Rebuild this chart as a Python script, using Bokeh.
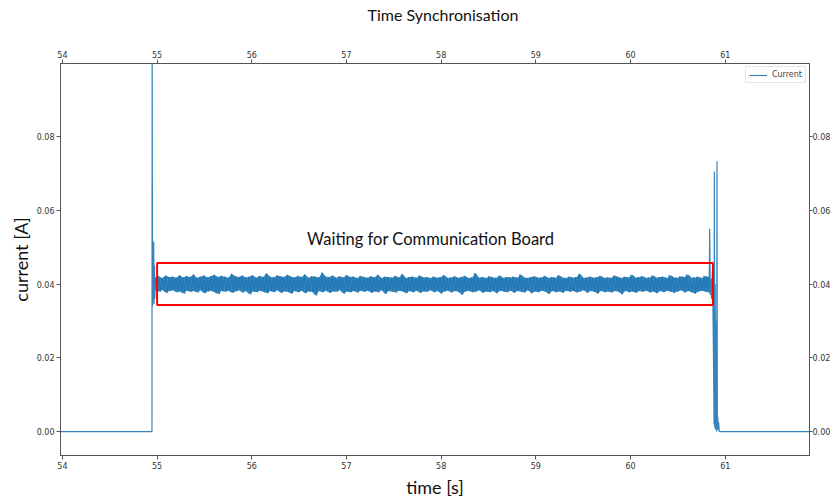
import numpy as np
from bokeh.plotting import figure
from bokeh.models import LinearAxis, FixedTicker, NumeralTickFormatter, Label, BoxAnnotation, Title
from bokeh.embed import file_html
from bokeh.resources import INLINE

# ---------------- data (current in mA, time in s) ----------------
title_text = "Time Synchronisation"
x_label = "time [s]"
y_label = "current [A]"
series_name = "Current"
annotation_text = "Waiting for Communication Board"

x_ticks = [54, 55, 56, 57, 58, 59, 60, 61]
y_ticks = [0.00, 0.02, 0.04, 0.06, 0.08]
x_limits = (53.98, 61.89)
y_limits = (-0.0065, 0.0998)

# idle before start + start-up spikes
start_t = [53.98, 54.946, 54.948, 54.952, 54.956, 54.960, 54.964, 54.968, 54.972, 54.976]
start_mA = [0.0, 0.0, 110.0, 34.0, 50.0, 35.0, 51.5, 34.5, 45.0, 36.0]

# waiting phase (alternating peak / trough samples)
band_t_range = (54.980, 60.830)
band_upper_mA = [
    41.8, 42.1, 41.6, 42.3, 41.9, 42.0, 41.7, 42.4, 41.8, 42.2, 41.9, 42.6, 41.7, 42.0, 42.3, 41.8, 42.1, 42.5, 41.9, 42.2,
    42.0, 41.7, 42.8, 42.1, 41.9, 42.3, 41.8, 42.0, 42.4, 41.7, 42.2, 41.9, 42.9, 42.0, 41.8, 42.3, 42.1, 41.9, 42.5, 42.0,
    41.8, 42.2, 41.9, 42.6, 41.7, 42.1, 42.0, 41.8, 43.1, 42.0, 41.9, 42.3, 41.7, 42.1, 41.8, 42.4, 41.9, 42.0, 41.6, 42.2,
    41.9, 41.7, 42.1, 41.8, 42.5, 41.6, 42.0, 41.9, 41.7, 42.2, 41.8, 42.7, 41.6, 41.9, 42.0, 41.7, 42.3, 41.8, 41.9, 41.6,
    42.0, 41.7, 41.9, 42.4, 41.6, 41.8, 42.1, 41.7, 41.9, 42.2, 41.6, 41.8, 43.0, 41.7, 41.9, 41.6, 42.1, 41.8, 41.7, 42.3,
    41.6, 41.9, 41.8, 42.0, 41.7, 42.6, 41.8, 41.6, 41.9, 42.1, 41.7, 41.8, 42.2, 41.6, 41.9, 41.7, 42.4, 41.8, 41.6, 42.0,
    41.7, 41.9, 42.8, 41.6, 41.8, 42.0, 41.7, 41.9, 42.2, 41.6, 41.8, 41.7, 42.3, 41.9, 41.6, 42.0, 41.8, 42.5, 41.7, 41.9,
    42.1, 41.6, 41.8, 42.3, 41.7, 41.9, 42.0, 41.6, 42.4, 41.8, 41.7, 42.1, 41.9, 42.6, 41.7, 41.8, 42.0, 41.6, 42.2, 41.9,
]
band_lower_mA = [
    38.2, 37.9, 38.4, 37.6, 38.1, 38.3, 37.8, 38.0, 37.4, 38.2, 37.9, 38.1, 37.7, 38.3, 37.5, 38.0, 38.2, 37.8, 37.3, 38.1,
    37.9, 38.2, 37.6, 38.0, 38.3, 37.7, 38.1, 37.2, 38.0, 37.8, 38.2, 37.9, 37.5, 38.1, 37.8, 38.3, 37.6, 38.0, 37.9, 37.4,
    38.1, 37.8, 38.2, 37.5, 38.0, 37.9, 36.9, 38.1, 37.8, 38.2, 37.6, 38.0, 37.9, 38.3, 37.4, 38.0, 37.8, 38.1, 37.7, 38.2,
    37.9, 38.2, 37.6, 38.0, 37.8, 38.3, 37.3, 38.1, 37.9, 37.7, 38.2, 38.0, 37.5, 38.1, 37.8, 38.2, 37.6, 38.0, 37.9, 38.3,
    37.8, 38.1, 37.4, 38.0, 38.2, 37.7, 38.1, 37.9, 37.1, 38.0, 38.2, 37.8, 37.9, 38.3, 37.6, 38.0, 37.8, 38.1, 37.5, 38.2,
    38.0, 37.8, 38.2, 37.6, 38.1, 37.9, 37.7, 38.3, 37.5, 38.0, 37.8, 38.2, 37.9, 37.3, 38.1, 37.8, 38.0, 37.6, 38.2, 37.9,
    38.1, 37.7, 38.0, 38.3, 37.6, 38.1, 37.9, 37.4, 38.2, 37.8, 38.0, 37.7, 38.1, 37.9, 37.2, 38.2, 37.8, 38.0, 37.6, 38.1,
    37.9, 38.2, 37.7, 38.0, 37.5, 38.1, 37.8, 38.2, 37.9, 37.6, 38.0, 38.3, 37.7, 38.1, 37.8, 37.4, 38.0, 38.2, 37.9, 37.7,
]

# end of waiting phase, shut-down spikes + idle
end_t = [60.836, 60.842, 60.848, 60.856, 60.866, 60.876, 60.882, 60.885, 60.889, 60.894, 60.899,
         60.905, 60.910, 60.913, 60.917, 60.921, 60.926, 60.931, 60.937, 61.89]
end_mA = [55.0, 37.0, 41.5, 36.0, 44.0, 20.0, 2.0, 70.5, 1.0, 40.0, 0.5,
          30.0, 0.0, 73.3, 0.5, 4.0, 0.5, 2.5, 0.0, 0.0]

# highlighted region and text anchor
box_left, box_right = 55.0, 60.87
box_bottom, box_top = 0.0343, 0.0457
annotation_x, annotation_y = 57.89, 0.0523

# ---------------- assemble series ----------------
band_mA = []
for u, l in zip(band_upper_mA, band_lower_mA):
    band_mA.extend([u, l])
band_t = np.linspace(band_t_range[0], band_t_range[1], len(band_mA))
env_t = np.linspace(band_t_range[0], band_t_range[1], len(band_upper_mA))

t_all = np.concatenate([start_t, band_t, end_t])
i_all = np.concatenate([start_mA, band_mA, end_mA]) / 1000.0

# ---------------- figure ----------------
p = figure(width=833, height=500, x_range=x_limits, y_range=y_limits,
           output_backend="svg", toolbar_location=None,
           x_axis_location=None, y_axis_location=None,
           min_border_left=60, min_border_right=18, min_border_top=63, min_border_bottom=40)

color = "#1f77b4"
p.varea(x=env_t, y1=np.array(band_lower_mA) / 1000.0, y2=np.array(band_upper_mA) / 1000.0,
        fill_color=color, fill_alpha=0.9)
p.line(t_all, i_all, line_color=color, line_width=1.2, line_alpha=0.9, legend_label=series_name)

ax_bottom = LinearAxis(axis_label=x_label)
ax_top = LinearAxis()
ax_left = LinearAxis(axis_label=y_label)
ax_right = LinearAxis()
p.add_layout(ax_bottom, "below")
p.add_layout(ax_top, "above")
p.add_layout(ax_left, "left")
p.add_layout(ax_right, "right")
# spacer between the top axis and the title
p.add_layout(Title(text=" ", text_font_size="2px", standoff=20), "above")

for ax in (ax_bottom, ax_top):
    ax.ticker = FixedTicker(ticks=x_ticks)
for ax in (ax_left, ax_right):
    ax.ticker = FixedTicker(ticks=y_ticks)
    ax.formatter = NumeralTickFormatter(format="0.00")

for ax in (ax_bottom, ax_top, ax_left, ax_right):
    ax.major_tick_out = 4
    ax.major_tick_in = 0
    ax.minor_tick_line_color = None
    ax.major_label_text_font = "DejaVu Sans"
    ax.major_label_text_font_size = "8px"
    ax.major_label_text_color = "#333333"
    ax.axis_line_color = "#555555"
    ax.major_tick_line_color = "#555555"
    ax.major_label_standoff = 2
ax_right.major_label_standoff = 0
ax_right.major_tick_out = 3

for ax in (ax_bottom, ax_left):
    ax.axis_label_text_font = "Lato"
    ax.axis_label_text_font_size = "18px"
    ax.axis_label_text_font_style = "normal"
    ax.axis_label_text_color = "#111111"
ax_bottom.axis_label_standoff = 4
ax_left.axis_label_standoff = 2

p.xgrid.visible = False
p.ygrid.visible = False
p.outline_line_color = "#555555"

p.title.text = title_text
p.title.align = "left"
p.title.offset = 307
p.title.text_font = "Lato"
p.title.text_font_size = "16px"
p.title.text_font_style = "normal"
p.title.text_color = "#111111"
p.title.standoff = 0

p.add_layout(BoxAnnotation(left=box_left, right=box_right, bottom=box_bottom, top=box_top,
                           fill_alpha=0, line_color="red", line_alpha=1.0, line_width=2))
p.add_layout(Label(x=annotation_x, y=annotation_y, text=annotation_text,
                   text_align="center", text_baseline="middle",
                   text_font="Lato", text_font_size="16.5px", text_color="#111111"))

p.legend.location = "top_right"
p.legend.label_text_font = "DejaVu Sans"
p.legend.label_text_font_size = "8px"
p.legend.glyph_width = 18
p.legend.glyph_height = 8
p.legend.label_height = 8
p.legend.padding = 3
p.legend.spacing = 0
p.legend.margin = 3
p.legend.label_standoff = 5
p.legend.border_line_color = "#cccccc"
p.legend.background_fill_alpha = 0.8

open("out.html", "w").write(file_html(p, INLINE))
